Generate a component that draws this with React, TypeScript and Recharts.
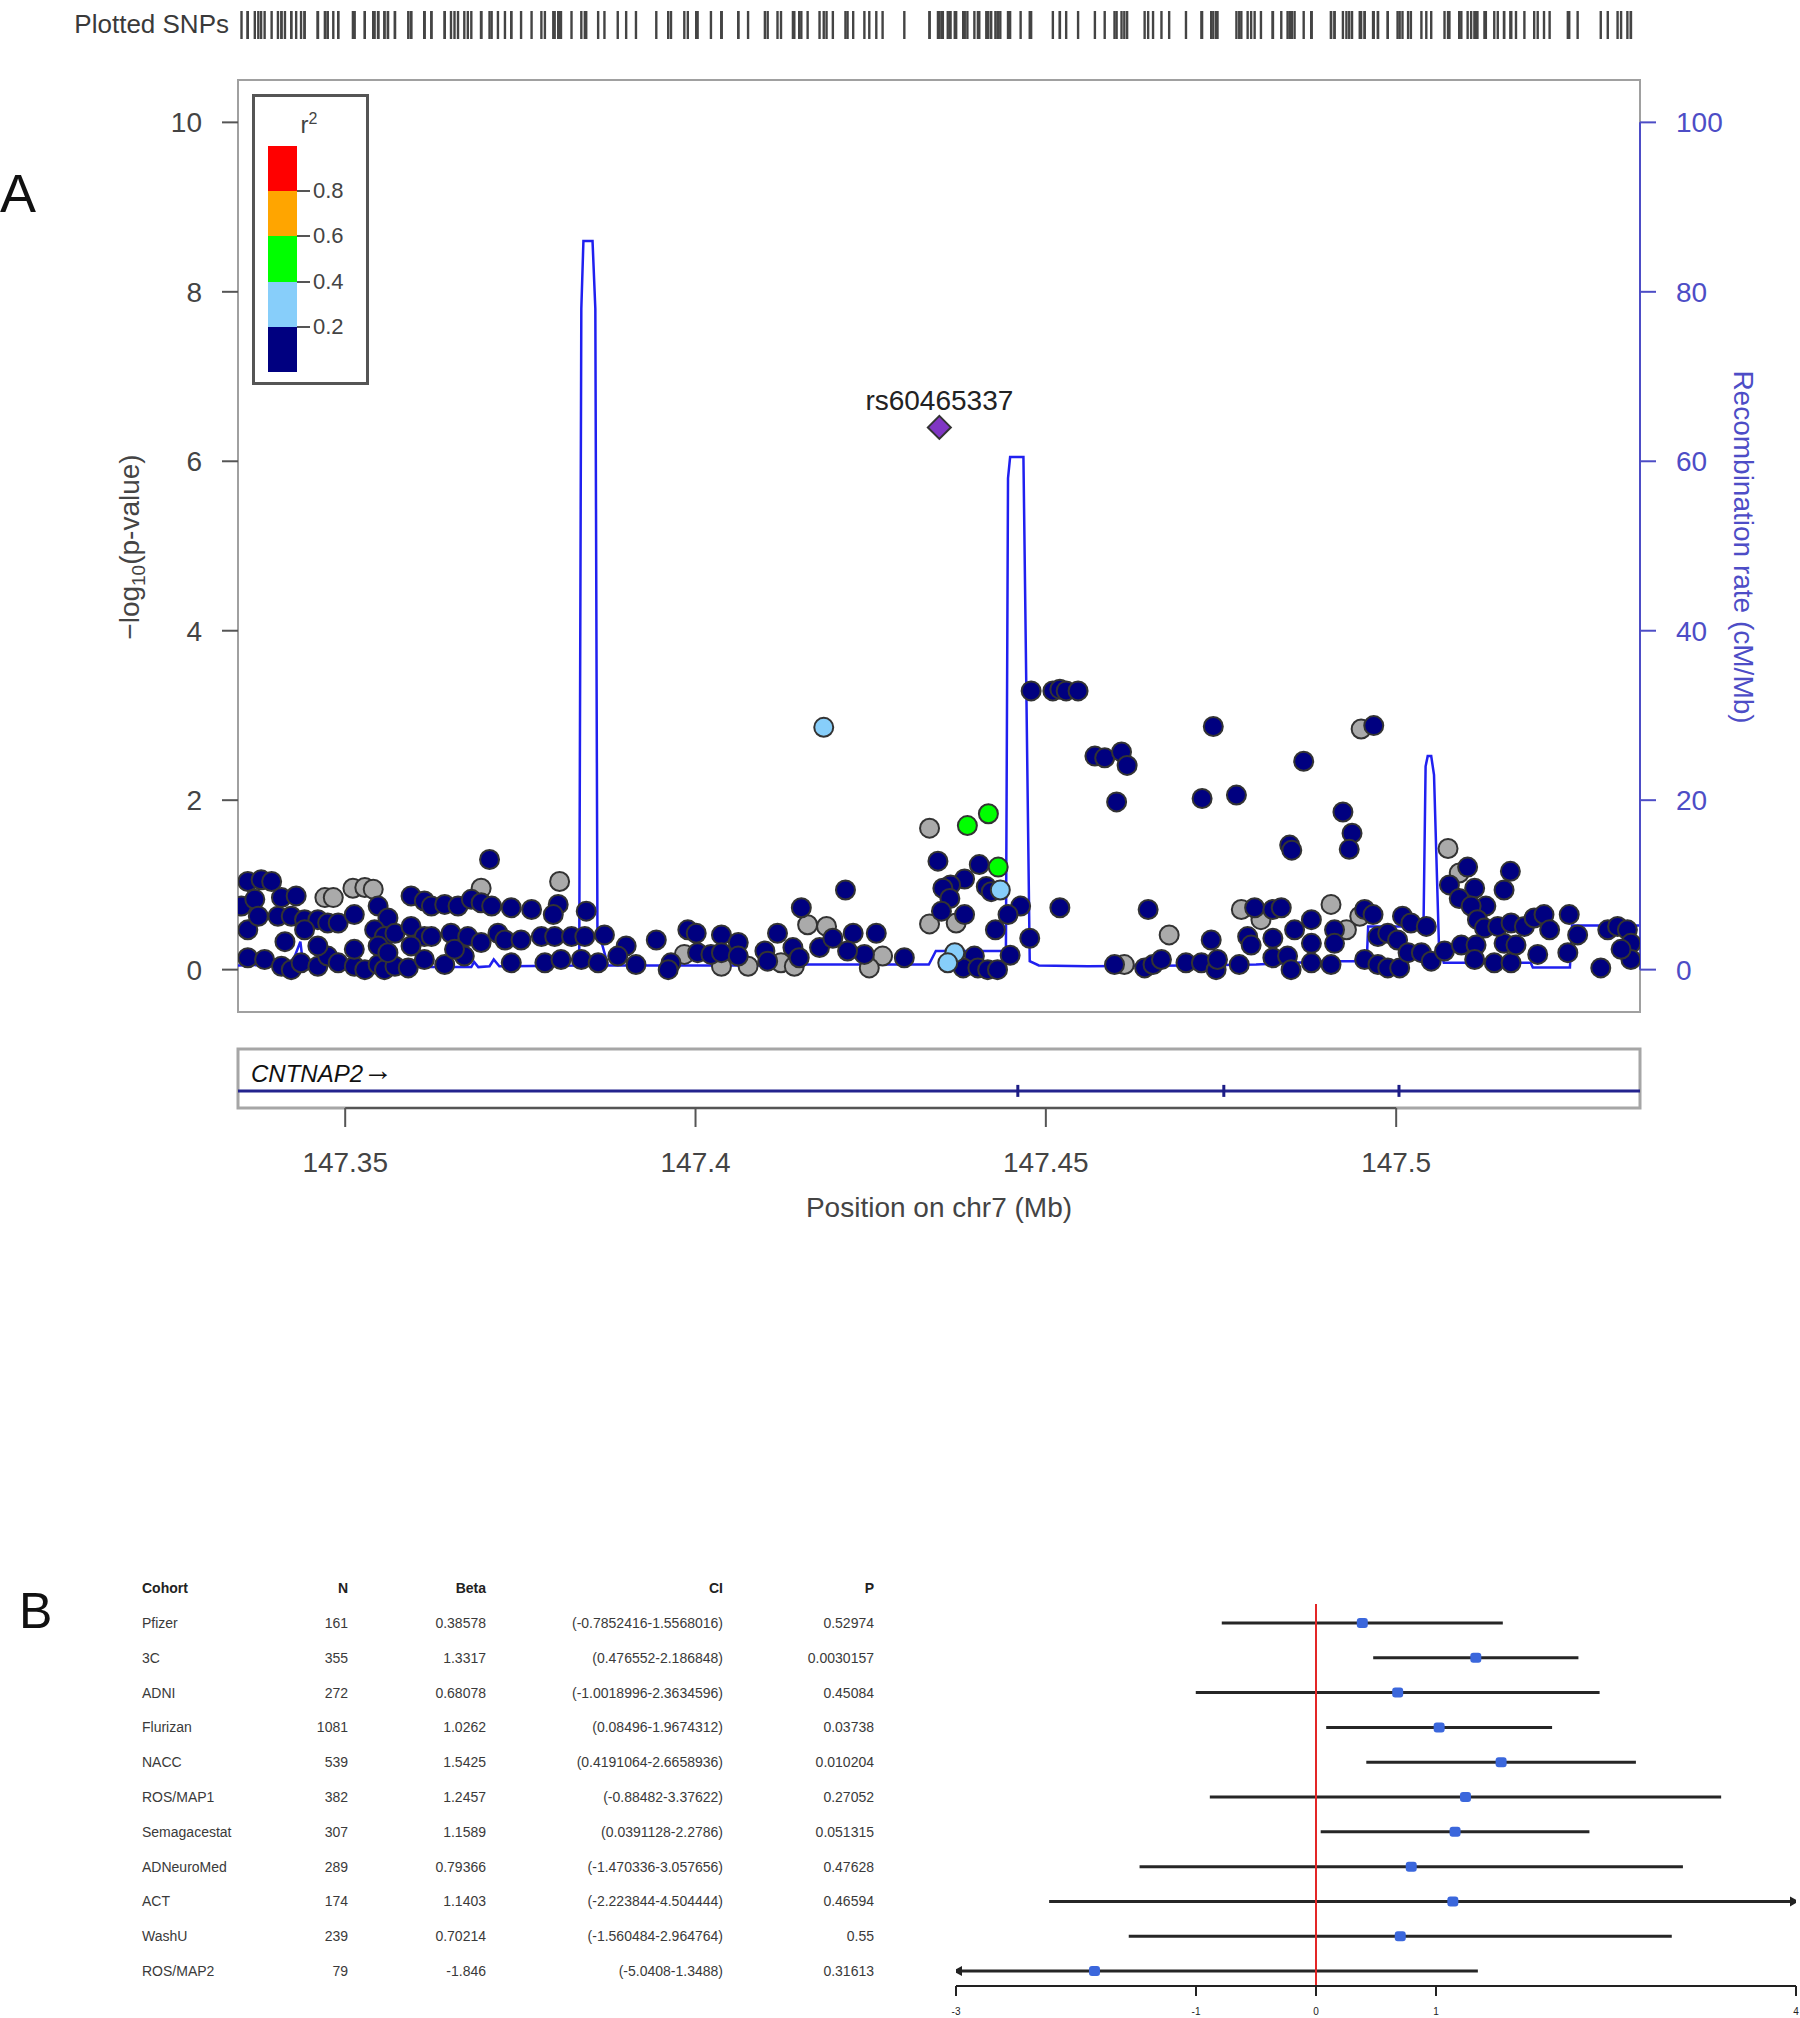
import React from "react";
import {
  ComposedChart,
  Scatter,
  Line,
  XAxis,
  YAxis,
  ReferenceArea,
  ReferenceLine,
} from "recharts";

const FONT = '"Liberation Sans", Arial, Helvetica, sans-serif';

// ---------- panel A: locus around the lead SNP (+/- 100 kb) ----------
const X_MIN = 147.3347;
const X_MAX = 147.5348;
const POS_TICKS = [147.35, 147.4, 147.45, 147.5];
const P_TICKS = [0, 2, 4, 6, 8, 10];
const RATE_TICKS = [0, 20, 40, 60, 80, 100];

const LD_BREAKS = [0.2, 0.4, 0.6, 0.8];
const LD_COLORS = ["#000080", "#87CEFA", "#00FF00", "#FFA500", "#FF0000"];
const NA_COLOR = "#AAAAAA";
const RATE_COLOR = "#4d4dc6";

const LEAD = { pos: 147.4348, p: 6.4, name: "rs60465337" };

type Pt = [number, number];

// no LD information (grey)
const SNP_NA: Pt[] = [
  [147.3471, 0.85], [147.3483, 0.85], [147.3511, 0.96], [147.3528, 0.97], [147.354, 0.95],
  [147.3694, 0.96], [147.3806, 1.04], [147.3984, 0.18], [147.4037, 0.04], [147.4075, 0.04],
  [147.4334, 1.67], [147.4334, 0.54], [147.4372, 0.55], [147.416, 0.53], [147.4187, 0.51],
  [147.4267, 0.16], [147.4248, 0.02], [147.4122, 0.08], [147.4141, 0.04], [147.4612, 0.06],
  [147.4676, 0.41], [147.4779, 0.71], [147.4807, 0.59], [147.495, 2.84], [147.5074, 1.43],
  [147.509, 1.14], [147.4907, 0.77], [147.4948, 0.63], [147.4929, 0.47],
];

// r2 < 0.2
const SNP_LD0: Pt[] = [
  [147.3361, 1.04], [147.338, 1.06], [147.3395, 1.04], [147.3352, 0.75], [147.3371, 0.83],
  [147.3409, 0.85], [147.343, 0.87], [147.3547, 0.75], [147.3561, 0.61], [147.3594, 0.87],
  [147.3613, 0.81], [147.3623, 0.75], [147.3642, 0.77], [147.3661, 0.75], [147.368, 0.83],
  [147.3694, 0.79], [147.3709, 0.75], [147.3737, 0.73], [147.3766, 0.71], [147.3706, 1.3],
  [147.3804, 0.77], [147.3797, 0.65], [147.3844, 0.69],
  [147.3361, 0.47], [147.3376, 0.63], [147.3404, 0.63], [147.3423, 0.63], [147.3442, 0.59],
  [147.3461, 0.59], [147.3475, 0.55], [147.349, 0.55], [147.3513, 0.65], [147.3542, 0.47],
  [147.3556, 0.39], [147.3571, 0.43], [147.3594, 0.51], [147.3613, 0.39], [147.3623, 0.39],
  [147.3651, 0.43], [147.3675, 0.39], [147.3694, 0.32], [147.3718, 0.43], [147.3728, 0.35],
  [147.3751, 0.35], [147.378, 0.39], [147.3799, 0.39], [147.3823, 0.39], [147.3842, 0.39],
  [147.387, 0.41], [147.3901, 0.28], [147.3944, 0.35], [147.3989, 0.47], [147.4001, 0.43],
  [147.4037, 0.41], [147.4061, 0.32], [147.3414, 0.33], [147.3442, 0.47],
  [147.3361, 0.14], [147.3385, 0.12], [147.3409, 0.04], [147.3423, 0.0], [147.3437, 0.08],
  [147.3461, 0.04], [147.3475, 0.16], [147.349, 0.08], [147.3513, 0.04], [147.3528, 0.0],
  [147.3547, 0.06], [147.3556, 0.0], [147.3571, 0.04], [147.359, 0.02], [147.3613, 0.12],
  [147.3642, 0.06], [147.367, 0.16], [147.3737, 0.08], [147.3785, 0.08], [147.3808, 0.12],
  [147.3837, 0.12], [147.3861, 0.08], [147.3889, 0.16], [147.3915, 0.06], [147.3965, 0.08],
  [147.3961, 0.0], [147.4003, 0.2], [147.4022, 0.18], [147.4037, 0.2], [147.4061, 0.16],
  [147.3513, 0.24], [147.3461, 0.28], [147.3547, 0.28], [147.3561, 0.2], [147.3594, 0.28],
  [147.3656, 0.24],
  [147.4479, 3.29], [147.451, 3.29], [147.452, 3.31], [147.4529, 3.29], [147.4546, 3.29],
  [147.457, 2.52], [147.4584, 2.5], [147.4608, 2.57], [147.4616, 2.41], [147.4601, 1.98],
  [147.4739, 2.87], [147.4723, 2.02], [147.4772, 2.06],
  [147.4346, 1.28], [147.4405, 1.24], [147.4384, 1.07], [147.4364, 1.0], [147.4353, 0.96],
  [147.4415, 0.98], [147.4422, 0.92], [147.4363, 0.84], [147.4351, 0.69], [147.4384, 0.65],
  [147.4464, 0.75], [147.4446, 0.65], [147.4428, 0.47], [147.4477, 0.37], [147.4449, 0.17],
  [147.4214, 0.94], [147.4151, 0.73], [147.4117, 0.43], [147.4177, 0.26], [147.4196, 0.37],
  [147.4225, 0.43], [147.4258, 0.43], [147.4241, 0.18], [147.4217, 0.22], [147.4298, 0.14],
  [147.4099, 0.22], [147.4103, 0.1], [147.4139, 0.26], [147.4148, 0.14],
  [147.4398, 0.16], [147.4382, 0.02], [147.4403, 0.02], [147.4417, 0.0], [147.4431, 0.0],
  [147.452, 0.73], [147.4646, 0.71],
  [147.4598, 0.06], [147.4641, 0.02], [147.4653, 0.06], [147.4665, 0.12], [147.47, 0.08],
  [147.4722, 0.08], [147.4743, 0.0], [147.4745, 0.12], [147.4736, 0.35], [147.4776, 0.06],
  [147.4798, 0.73], [147.4824, 0.71], [147.4788, 0.39], [147.4793, 0.29], [147.4824, 0.37],
  [147.4824, 0.14],
  [147.4968, 2.88], [147.4868, 2.46], [147.4924, 1.86], [147.4937, 1.61], [147.4933, 1.42],
  [147.4848, 1.47], [147.4851, 1.41],
  [147.5102, 1.21], [147.5163, 1.16], [147.5154, 0.94], [147.5076, 1.0], [147.5112, 0.96],
  [147.509, 0.84], [147.5128, 0.75], [147.5107, 0.75], [147.5116, 0.59], [147.5126, 0.49],
  [147.4836, 0.73], [147.4879, 0.59], [147.4855, 0.47], [147.4912, 0.47], [147.4879, 0.31],
  [147.4912, 0.31], [147.4845, 0.16], [147.4879, 0.08], [147.4907, 0.06], [147.485, 0.0],
  [147.4955, 0.71], [147.4967, 0.65], [147.5009, 0.63], [147.5021, 0.55], [147.5043, 0.51],
  [147.4955, 0.12], [147.4974, 0.39], [147.4988, 0.43], [147.5002, 0.35], [147.4974, 0.06],
  [147.4988, 0.02], [147.5005, 0.02], [147.5017, 0.2], [147.5036, 0.2], [147.505, 0.1],
  [147.5069, 0.22], [147.5093, 0.29], [147.5114, 0.29], [147.5112, 0.12], [147.514, 0.08],
  [147.5164, 0.08], [147.5154, 0.31], [147.5171, 0.29], [147.5145, 0.51], [147.5164, 0.55],
  [147.5183, 0.51], [147.5197, 0.61], [147.5211, 0.65], [147.5219, 0.47], [147.5202, 0.18],
  [147.5247, 0.65], [147.5259, 0.41], [147.5245, 0.2], [147.5292, 0.02], [147.5302, 0.47],
  [147.5316, 0.51], [147.533, 0.47], [147.5335, 0.31], [147.5335, 0.12], [147.5321, 0.24],
];

// 0.2 <= r2 < 0.4
const SNP_LD1: Pt[] = [
  [147.4183, 2.86], [147.4435, 0.94], [147.437, 0.2], [147.436, 0.08],
];

// 0.4 <= r2 < 0.6
const SNP_LD2: Pt[] = [
  [147.4388, 1.7], [147.4418, 1.84], [147.4432, 1.21],
];

// recombination rate, cM/Mb
const RECOMB: Pt[] = [
  [147.3347, 0.5], [147.342, 0.6], [147.3428, 1.6], [147.3436, 3.3], [147.344, 0.6],
  [147.36, 0.4], [147.362, 0.3], [147.368, 0.3], [147.3684, 0.9], [147.369, 0.3],
  [147.3706, 0.4], [147.3712, 1.2], [147.372, 0.4], [147.3834, 0.5], [147.3837, 78],
  [147.384, 86], [147.3853, 86], [147.3857, 78], [147.386, 5], [147.3875, 0.5],
  [147.41, 0.5], [147.414, 0.6], [147.4333, 0.6], [147.4343, 2.2], [147.4443, 2.2],
  [147.4446, 58], [147.4449, 60.5], [147.4468, 60.5], [147.4477, 1.0], [147.449, 0.5],
  [147.456, 0.4], [147.47, 0.5], [147.48, 0.6], [147.49, 1.0], [147.4958, 1.0],
  [147.496, 5.1], [147.5039, 5.1], [147.5042, 24], [147.5045, 25.2], [147.505, 25.2],
  [147.5054, 23], [147.5061, 3], [147.5068, 0.8], [147.5192, 0.8], [147.5195, 0.25],
  [147.5248, 0.25], [147.5251, 5.2], [147.5348, 5.2],
];

const GENE = { name: "CNTNAP2", start: 145.8135, end: 148.1188 };
const EXONS = [147.446, 147.4754, 147.5004];

// ---------- panel B: per-cohort effects ----------
const HEADER = ["Cohort", "N", "Beta", "CI", "P"];
const COHORTS = ["Pfizer", "3C", "ADNI", "Flurizan", "NACC", "ROS/MAP1", "Semagacestat", "ADNeuroMed", "ACT", "WashU", "ROS/MAP2"];
const N = [161, 355, 272, 1081, 539, 382, 307, 289, 174, 239, 79];
const BETA = [0.38578, 1.3317, 0.68078, 1.0262, 1.5425, 1.2457, 1.1589, 0.79366, 1.1403, 0.70214, -1.846];
const CI_LO = [-0.7852416, 0.476552, -1.0018996, 0.08496, 0.4191064, -0.88482, 0.0391128, -1.470336, -2.223844, -1.560484, -5.0408];
const CI_HI = [1.5568016, 2.186848, 2.3634596, 1.9674312, 2.6658936, 3.37622, 2.2786, 3.057656, 4.504444, 2.964764, 1.3488];
const P_VALUES = [0.52974, 0.0030157, 0.45084, 0.03738, 0.010204, 0.27052, 0.051315, 0.47628, 0.46594, 0.55, 0.31613];
const BETA_MIN = -3;
const BETA_MAX = 4;
const BETA_TICKS = [-3, -1, 0, 1, 4];

const pts = (a: Pt[]) => a.map(([pos, p]) => ({ pos, p }));

const dot = (fill: string) => (props: any) =>
  <circle cx={props.cx} cy={props.cy} r={9.5} fill={fill} stroke="#333" strokeWidth={2} />;

const LeadShape = (props: any) => {
  const { cx, cy, payload } = props;
  const s = 11.5;
  return (
    <g>
      <polygon
        points={`${cx},${cy - s} ${cx + s},${cy} ${cx},${cy + s} ${cx - s},${cy}`}
        fill="#8036C4"
        stroke="#333"
        strokeWidth={2}
      />
      <text x={cx} y={cy - 17} textAnchor="middle" fontSize={28} fill="#222" fontFamily={FONT}>
        {payload.name}
      </text>
    </g>
  );
};

const RugShape = (props: any) =>
  <line x1={props.cx} x2={props.cx} y1={11} y2={39} stroke="#444" strokeWidth={2.4} />;

const ExonShape = (props: any) =>
  <rect x={props.cx - 1.5} y={props.cy - 6} width={3} height={12} fill="#1c1c86" />;

function T({ x, y, ax = "c", size = 28, color = "#444", rot = 0, bold = false, italic = false, children }: any) {
  const tx = ax === "l" ? "0" : ax === "r" ? "-100%" : "-50%";
  return (
    <div
      style={{
        position: "absolute",
        left: x,
        top: y,
        transform: `translate(${tx},-50%) rotate(${rot}deg)`,
        whiteSpace: "nowrap",
        lineHeight: 1,
        fontSize: size,
        color,
        fontWeight: bold ? "bold" : "normal",
        fontStyle: italic ? "italic" : "normal",
        fontFamily: FONT,
      }}
    >
      {children}
    </div>
  );
}

function LdLegend() {
  const top = 146;
  const seg = 45.2;
  const colors = [...LD_COLORS].reverse();
  const breaks = [...LD_BREAKS].reverse();
  return (
    <>
      <div style={{ position: "absolute", left: 252, top: 94, width: 117, height: 291, border: "3px solid #555", boxSizing: "border-box", background: "#fff" }} />
      <T x={309} y={124} size={24}>r<sup style={{ fontSize: 16 }}>2</sup></T>
      {colors.map((c, k) => (
        <div key={c} style={{ position: "absolute", left: 268, top: top + k * seg, width: 29, height: seg, background: c }} />
      ))}
      {breaks.map((b, k) => (
        <React.Fragment key={b}>
          <div style={{ position: "absolute", left: 297, top: top + (k + 1) * seg - 1, width: 13, height: 2, background: "#555" }} />
          <T x={313} y={top + (k + 1) * seg} ax="l" size={22}>{String(b)}</T>
        </React.Fragment>
      ))}
    </>
  );
}

const COL_X = [142, 348, 486, 723, 874];

const TableRow = (props: any) => {
  const i = props.payload.value - 1;
  const cells = [COHORTS[i], N[i], BETA[i], `(${CI_LO[i]}-${CI_HI[i]})`, P_VALUES[i]];
  return (
    <g>
      {cells.map((v, k) => (
        <text
          key={k}
          x={COL_X[k]}
          y={props.y}
          textAnchor={k === 0 ? "start" : "end"}
          dominantBaseline="central"
          fontSize={14}
          fill="#3a3a3a"
          fontFamily={FONT}
        >
          {String(v)}
        </text>
      ))}
    </g>
  );
};

const ArrowShape = (props: any) => {
  const { cx, cy, payload } = props;
  const d = payload.dir;
  return <polygon points={`${cx + 3 * d},${cy} ${cx - 6 * d},${cy - 5} ${cx - 6 * d},${cy + 5}`} fill="#222" />;
};

const BetaDot = (props: any) =>
  <rect x={props.cx - 5.5} y={props.cy - 5} width={11} height={10} rx={3} fill="#3B67DC" />;

export default function App() {
  const allSnps = pts([...SNP_NA, ...SNP_LD0, ...SNP_LD1, ...SNP_LD2, [LEAD.pos, LEAD.p]]);
  const recomb = RECOMB.map(([pos, rate]) => ({ pos, rate }));
  const rows = COHORTS.map((_, i) => ({ x: BETA[i], y: i + 1 }));
  const arrows = COHORTS.flatMap((_, i) => {
    const out: any[] = [];
    if (CI_LO[i] < BETA_MIN) out.push({ x: BETA_MIN, y: i + 1, dir: -1 });
    if (CI_HI[i] > BETA_MAX) out.push({ x: BETA_MAX, y: i + 1, dir: 1 });
    return out;
  });
  const axisTick = { fill: "#444", fontSize: 28, fontFamily: FONT };

  return (
    <div style={{ position: "absolute", left: 0, top: 0, width: 1800, height: 2018, background: "#fff", overflow: "hidden", fontFamily: FONT }}>
      {/* rug of plotted SNPs */}
      <T x={229} y={24} ax="r" size={26} color="#3a3a3a">Plotted SNPs</T>
      <div style={{ position: "absolute", left: 0, top: 0 }}>
        <ComposedChart width={1800} height={50} margin={{ top: 10, right: 160, bottom: 10, left: 238 }}>
          <XAxis type="number" dataKey="pos" domain={[X_MIN, X_MAX]} allowDataOverflow hide />
          <YAxis type="number" dataKey="p" domain={[0, 11]} allowDataOverflow hide />
          <Scatter data={allSnps} shape={RugShape} isAnimationActive={false} />
        </ComposedChart>
      </div>

      {/* association plot */}
      <div style={{ position: "absolute", left: 0, top: 0 }}>
        <ComposedChart width={1800} height={1020} margin={{ top: 80, right: 0, bottom: 8, left: 0 }}>
          <XAxis type="number" dataKey="pos" domain={[X_MIN, X_MAX]} allowDataOverflow hide />
          <YAxis
            yAxisId="left"
            type="number"
            dataKey="p"
            domain={[-0.5, 10.5]}
            allowDataOverflow
            ticks={P_TICKS}
            interval={0}
            width={238}
            tickSize={16}
            tickMargin={20}
            axisLine={false}
            tickLine={{ stroke: "#555", strokeWidth: 2 }}
            tick={axisTick}
          />
          <YAxis
            yAxisId="right"
            orientation="right"
            type="number"
            dataKey="rate"
            domain={[-5, 105]}
            allowDataOverflow
            ticks={RATE_TICKS}
            interval={0}
            width={160}
            tickSize={16}
            tickMargin={20}
            axisLine={false}
            tickLine={{ stroke: RATE_COLOR, strokeWidth: 2 }}
            tick={{ ...axisTick, fill: RATE_COLOR }}
          />
          <ReferenceArea yAxisId="left" x1={X_MIN} x2={X_MAX} y1={-0.5} y2={10.5} fill="none" stroke="#a0a0a0" strokeWidth={2} ifOverflow="visible" />
          <Line yAxisId="right" data={recomb} dataKey="rate" type="linear" stroke="#2020F0" strokeWidth={2.5} dot={false} isAnimationActive={false} />
          <Scatter yAxisId="left" data={pts(SNP_NA)} shape={dot(NA_COLOR)} isAnimationActive={false} />
          <Scatter yAxisId="left" data={pts(SNP_LD0)} shape={dot(LD_COLORS[0])} isAnimationActive={false} />
          <Scatter yAxisId="left" data={pts(SNP_LD1)} shape={dot(LD_COLORS[1])} isAnimationActive={false} />
          <Scatter yAxisId="left" data={pts(SNP_LD2)} shape={dot(LD_COLORS[2])} isAnimationActive={false} />
          <Scatter yAxisId="left" data={[LEAD]} shape={LeadShape} isAnimationActive={false} />
          <ReferenceLine yAxisId="right" segment={[{ x: X_MAX, y: 0 }, { x: X_MAX, y: 100 }]} stroke={RATE_COLOR} strokeWidth={2} ifOverflow="visible" />
        </ComposedChart>
      </div>
      <LdLegend />
      <T x={132} y={547} rot={-90}>−log<sub style={{ fontSize: 19 }}>10</sub>(p-value)</T>
      <T x={1743} y={547} rot={90} color={RATE_COLOR}>Recombination rate (cM/Mb)</T>

      {/* gene track + position axis */}
      <div style={{ position: "absolute", left: 0, top: 1040 }}>
        <ComposedChart width={1800} height={200} margin={{ top: 9, right: 160, bottom: 0, left: 238 }}>
          <XAxis
            type="number"
            dataKey="pos"
            domain={[X_MIN, X_MAX]}
            allowDataOverflow
            ticks={POS_TICKS}
            interval={0}
            tickFormatter={(v: number) => String(v)}
            height={132}
            tickSize={19}
            tickMargin={25}
            axisLine={false}
            tickLine={{ stroke: "#555", strokeWidth: 2 }}
            tick={axisTick}
          />
          <YAxis type="number" dataKey="y" domain={[0, 1]} hide />
          <ReferenceArea x1={X_MIN} x2={X_MAX} y1={0} y2={1} fill="none" stroke="#a6a6a6" strokeWidth={3} ifOverflow="visible" />
          <ReferenceLine
            segment={[{ x: Math.max(GENE.start, X_MIN), y: 0.29 }, { x: Math.min(GENE.end, X_MAX), y: 0.29 }]}
            stroke="#23238e"
            strokeWidth={3}
          />
          <Scatter data={EXONS.map((pos) => ({ pos, y: 0.29 }))} shape={ExonShape} isAnimationActive={false} />
          <ReferenceLine segment={[{ x: POS_TICKS[0], y: 0 }, { x: POS_TICKS[POS_TICKS.length - 1], y: 0 }]} stroke="#555" strokeWidth={2} ifOverflow="visible" />
        </ComposedChart>
      </div>
      <T x={251} y={1072} ax="l" size={24} color="#111">
        <i>{GENE.name}</i>
        <span style={{ fontSize: 30, fontWeight: "bold", position: "relative", top: -2 }}>→</span>
      </T>
      <T x={939} y={1208}>Position on chr7 (Mb)</T>

      {/* panel B */}
      {HEADER.map((h, k) => (
        <T key={h} x={COL_X[k]} y={1588} ax={k === 0 ? "l" : "r"} size={14} bold color="#222">{h}</T>
      ))}
      <div style={{ position: "absolute", left: 0, top: 1560 }}>
        <ComposedChart width={1800} height={458} margin={{ top: 44, right: 4, bottom: 0, left: 0 }}>
          <XAxis
            type="number"
            dataKey="x"
            domain={[BETA_MIN, BETA_MAX]}
            allowDataOverflow
            ticks={BETA_TICKS}
            interval={0}
            height={32}
            tickSize={10}
            tickMargin={12}
            axisLine={{ stroke: "#222", strokeWidth: 2 }}
            tickLine={{ stroke: "#222", strokeWidth: 2 }}
            tick={{ fill: "#222", fontSize: 10, fontFamily: FONT }}
          />
          <YAxis
            type="number"
            dataKey="y"
            domain={[0.454, 11.43]}
            allowDataOverflow
            reversed
            ticks={COHORTS.map((_, i) => i + 1)}
            interval={0}
            width={956}
            axisLine={false}
            tickLine={false}
            tick={TableRow}
          />
          {COHORTS.map((c, i) => (
            <ReferenceLine
              key={c}
              segment={[{ x: Math.max(CI_LO[i], BETA_MIN), y: i + 1 }, { x: Math.min(CI_HI[i], BETA_MAX), y: i + 1 }]}
              stroke="#262626"
              strokeWidth={3}
            />
          ))}
          <ReferenceLine x={0} stroke="#e32626" strokeWidth={2} />
          <Scatter data={arrows} shape={ArrowShape} isAnimationActive={false} />
          <Scatter data={rows} shape={BetaDot} isAnimationActive={false} />
        </ComposedChart>
      </div>

      <T x={0} y={193} ax="l" size={54} color="#111">A</T>
      <T x={19} y={1611} ax="l" size={50} color="#111">B</T>
    </div>
  );
}
